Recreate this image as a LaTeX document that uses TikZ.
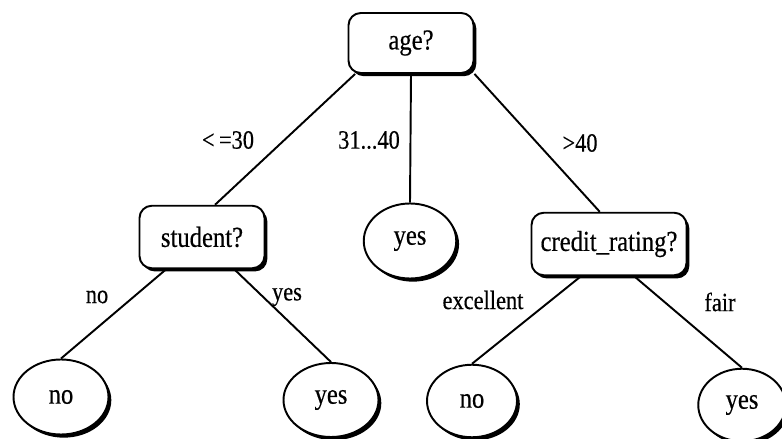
\documentclass[tikz,border=0pt]{standalone}
\usepackage{fontspec}
\setmainfont[FakeStretch=0.85, FakeBold=0.4]{Liberation Serif}
\usetikzlibrary{shapes.geometric,shadows}

\begin{document}
\begin{tikzpicture}
    [line width=1.1pt,
     shade/.style={drop shadow={shadow xshift=1.6pt, shadow yshift=-1.8pt, opacity=1, fill=black}},
     test/.style={draw, rounded corners=7pt, fill=white, shade, font=\fontsize{16.5}{18}\selectfont},
     leaf/.style={draw, ellipse, fill=white, shade, font=\fontsize{16.5}{18}\selectfont},
     lbl/.style={font=\fontsize{15}{17}\selectfont}]
  \useasboundingbox (0,0) rectangle (15.64,-8.78);

  \node[test, minimum width=2.5cm, minimum height=1.2cm] (age) at (8.22,-0.86) {age?};
  \node[test, minimum width=2.5cm, minimum height=1.25cm] (student) at (4.04,-4.74) {student?};
  \node[leaf, minimum width=1.85cm, minimum height=1.5cm] (yes0) at (8.2,-4.82) {yes};
  \node[test, minimum width=3.1cm, minimum height=1.25cm] (credit) at (12.18,-4.88) {credit\_rating?};
  \node[leaf, minimum width=1.9cm, minimum height=1.5cm] (no1) at (1.22,-7.94) {no};
  \node[leaf, minimum width=1.9cm, minimum height=1.48cm] (yes1) at (6.62,-8.0) {yes};
  \node[leaf, minimum width=1.8cm, minimum height=1.45cm] (no2) at (9.44,-8.02) {no};
  \node[leaf, minimum width=1.75cm, minimum height=1.45cm] (yes2) at (14.84,-8.1) {yes};

  % branch labels
  \node[lbl] (lage1) at (4.56,-2.8) {<\,=30};
  \node[lbl] (lage2) at (7.38,-2.8) {31...40};
  \node[lbl] (lage3) at (11.6,-2.86) {>40};
  \node[lbl] (lstu1) at (1.94,-5.94) {no};
  \node[lbl] (lstu2) at (5.74,-5.94) {yes};
  \node[lbl] (lcre1) at (9.66,-6.0) {excellent};
  \node[lbl] (lcre2) at (14.4,-6.04) {fair};

  \draw (age.209) -- (student.68);
  \draw (age.south) -- (yes0.north);
  \draw (age.334) -- (credit.106);
  \draw (student.222) -- (no1.north);
  \draw (student.315) -- (yes1.north);
  \draw (credit.229) -- (no2.north);
  \draw (credit.308) -- (yes2.north);
\end{tikzpicture}
\end{document}
